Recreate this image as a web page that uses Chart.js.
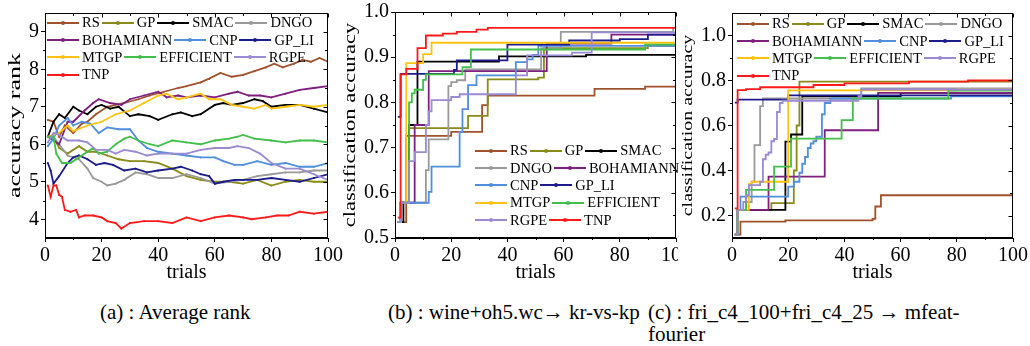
<!DOCTYPE html>
<html>
<head>
<meta charset="utf-8">
<script src="https://cdn.jsdelivr.net/npm/chart.js@4.4.1/dist/chart.umd.min.js"></script>
<style>
  body { margin: 0; background: #fff; width: 1030px; height: 346px; position: relative; overflow: hidden; font-family: "Liberation Serif", "Times New Roman", serif; }
  canvas { position: absolute; top: 0; }
  #cC { background: #fff; }
  .legend { position: absolute; font-size: 14.5px; color: #000; }
  .row { display: flex; align-items: center; height: 17.3px; white-space: nowrap; }
  .sw { width: 32px; height: 2px; position: relative; margin-right: 3px; }
  .dot { position: absolute; left: 14px; top: -1px; width: 4px; height: 4px; border-radius: 50%; }
  .lab { margin-right: 2px; line-height: 1; }
  .cap { position: absolute; font-size: 21px; line-height: 22px; color: #000; }
</style>
</head>
<body>
<canvas id="cA" width="344" height="290" style="left:0"></canvas>
<canvas id="cB" width="340" height="290" style="left:338px"></canvas>
<canvas id="cC" width="352" height="290" style="left:678px"></canvas>
<div class="legend" id="legA" style="left:47px;top:14px"></div>
<div class="legend" id="legB" style="left:475px;top:142px"></div>
<div class="legend" id="legC" style="left:737px;top:15px"></div>
<div class="cap" style="left:100px;top:301px">(a) : Average rank</div>
<div class="cap" style="left:388px;top:301px">(b) : wine+oh5.wc→ kr-vs-kp</div>
<div class="cap" style="left:648px;top:301px">(c) : fri_c4_100+fri_c4_25 → mfeat-<br>fourier</div>
<script>
const names = ['RS', 'GP', 'SMAC', 'DNGO', 'BOHAMIANN', 'CNP', 'GP_LI', 'MTGP', 'EFFICIENT', 'RGPE', 'TNP'];
const colors = ['#a0522d', '#8b8b1a', '#000000', '#9a9a9a', '#7f1f80', '#4f8fdc', '#1c1c8c', '#ffc20e', '#43bf4b', '#9a8ad4', '#ff1a1a'];

const trialTicks = [0, 20, 40, 60, 80, 100];
const trialMinor = [10, 30, 50, 70, 90];
const rankTicks = [4, 5, 6, 7, 8, 9];
const rankMinor = [4.5, 5.5, 6.5, 7.5, 8.5];
const accTicksB = [0.5, 0.6, 0.7, 0.8, 0.9, 1.0];
const accMinorB = [0.55, 0.65, 0.75, 0.85, 0.95];
const accTicksC = [0.2, 0.4, 0.6, 0.8, 1.0];
const accMinorC = [0.3, 0.5, 0.7, 0.9];

// (a) average rank, [trial, rank]
const rsRank = [[1,6.65],[3,6.6],[5,6.2],[7,6.5],[10,6.3],[13,6.55],[15,6.6],[18,6.8],[22,7.0],[28,7.1],[33,7.2],[37,7.3],[42,7.4],[47,7.5],[50,7.55],[55,7.65],[58,7.75],[62,7.9],[66,7.8],[70,7.85],[74,7.95],[78,8.05],[81,8.15],[84,8.05],[88,8.15],[91,8.25],[94,8.2],[97,8.3],[100,8.2]];
const gpRank = [[1,6.2],[3,6.2],[5,5.9],[8,5.75],[12,5.95],[15,5.8],[18,5.8],[22,5.7],[26,5.6],[30,5.55],[35,5.55],[40,5.5],[45,5.35],[50,5.15],[55,5.05],[60,5.0],[65,5.0],[70,4.95],[75,5.05],[80,4.9],[85,5.0],[90,5.05],[95,5.0],[100,5.0]];
const smacRank = [[1,6.2],[3,6.6],[5,6.8],[7,6.7],[10,7.0],[12,6.9],[15,6.8],[18,7.0],[20,7.05],[23,6.95],[26,7.0],[30,6.75],[33,6.8],[37,6.75],[40,6.65],[45,6.8],[48,6.85],[52,6.75],[55,6.8],[60,7.05],[63,7.1],[66,7.05],[70,7.1],[74,7.2],[77,7.15],[80,7.0],[85,7.05],[90,7.05],[95,6.95],[100,6.85]];
const dngoRank = [[1,6.2],[3,6.2],[5,6.0],[8,5.7],[12,5.6],[15,5.35],[17,5.1],[20,5.0],[22,4.9],[25,4.95],[28,5.05],[32,5.25],[36,5.2],[40,5.1],[45,5.1],[50,5.2],[55,5.1],[60,4.95],[65,5.0],[70,5.05],[75,5.15],[80,5.2],[85,5.25],[90,5.25],[95,5.3],[100,5.3]];
const bohRank = [[1,6.2],[5,6.0],[8,6.6],[10,6.6],[14,6.9],[17,7.1],[19,7.2],[23,7.1],[27,7.05],[30,7.2],[35,7.3],[40,7.4],[43,7.25],[47,7.3],[50,7.25],[55,7.3],[60,7.25],[65,7.35],[68,7.4],[72,7.3],[76,7.3],[80,7.25],[85,7.35],[90,7.45],[95,7.5],[100,7.55]];
const cnpRank = [[1,5.95],[3,6.15],[5,6.5],[8,6.7],[10,6.5],[13,6.6],[16,6.55],[19,6.3],[22,6.45],[26,6.4],[30,6.4],[33,6.1],[36,5.9],[40,5.8],[45,5.75],[50,5.7],[55,5.65],[60,5.65],[63,5.55],[67,5.45],[70,5.45],[75,5.55],[80,5.45],[85,5.5],[90,5.4],[95,5.4],[100,5.5]];
const gpliRank = [[1,5.5],[2,5.3],[3,4.95],[5,5.15],[8,5.5],[10,5.65],[12,5.7],[15,5.6],[18,5.45],[21,5.5],[24,5.45],[28,5.3],[32,5.35],[36,5.25],[40,5.3],[45,5.35],[48,5.4],[52,5.3],[55,5.2],[58,5.15],[60,4.95],[63,5.0],[67,5.05],[70,5.05],[75,5.05],[80,5.1],[85,5.05],[90,5.0],[95,5.1],[100,5.2]];
const mtgpRank = [[1,6.2],[5,6.3],[8,6.5],[10,6.35],[15,6.5],[20,6.6],[25,6.8],[30,6.9],[35,7.1],[40,7.3],[43,7.35],[47,7.2],[50,7.25],[55,7.35],[58,7.2],[62,7.2],[66,7.05],[70,7.0],[74,6.95],[78,7.05],[80,6.95],[85,7.0],[90,7.05],[95,7.0],[100,7.05]];
const effRank = [[1,6.2],[3,6.2],[4,5.75],[6,5.5],[9,5.5],[12,5.65],[15,5.8],[17,5.9],[19,5.75],[22,5.8],[25,6.0],[28,6.15],[30,6.2],[33,6.1],[37,6.0],[40,5.95],[45,6.1],[50,6.05],[55,6.0],[60,6.1],[65,6.15],[68,6.2],[70,6.25],[74,6.15],[80,6.1],[85,6.05],[90,6.1],[95,6.1],[100,6.05]];
const rgpeRank = [[1,6.05],[3,6.3],[5,6.25],[8,6.1],[12,6.1],[15,6.05],[18,5.85],[22,5.85],[25,5.75],[28,5.85],[32,5.8],[36,5.7],[40,5.75],[45,5.75],[50,5.75],[55,5.85],[60,5.9],[65,5.9],[68,5.95],[72,5.9],[76,5.75],[80,5.5],[85,5.35],[90,5.35],[95,5.2],[100,5.05]];
const tnpRank = [[1,4.9],[2,4.6],[3,4.9],[4,4.9],[5,4.65],[6,4.6],[7,4.25],[9,4.2],[11,4.25],[12,4.05],[14,4.1],[17,4.1],[20,4.05],[22,3.95],[25,3.9],[27,3.75],[30,3.9],[35,3.95],[40,3.95],[45,3.9],[50,4.05],[55,3.95],[60,4.05],[65,4.1],[70,4.05],[73,4.0],[78,4.05],[82,4.1],[86,4.1],[90,4.2],[95,4.15],[100,4.2]];

// (b) wine+oh5.wc -> kr-vs-kp, best accuracy so far [trial, acc]
const rsB = [[1,0.535],[4,0.726],[20,0.735],[31,0.794],[33,0.815],[71,0.83],[89,0.835],[100,0.835]];
const gpB = [[1,0.535],[2,0.578],[5,0.743],[26,0.77],[33,0.851],[51,0.855],[53,0.92],[90,0.925],[100,0.925]];
const smacB = [[1,0.535],[3,0.578],[5,0.75],[8,0.89],[37,0.902],[68,0.905],[100,0.905]];
const dngoB = [[1,0.535],[2,0.578],[11,0.65],[12,0.718],[19,0.836],[20,0.845],[22,0.849],[25,0.873],[52,0.92],[59,0.956],[99,0.965],[100,0.965]];
const bohB = [[1,0.535],[2,0.578],[7,0.75],[12,0.869],[54,0.93],[77,0.95],[100,0.95]];
const cnpB = [[1,0.535],[2,0.578],[12,0.602],[13,0.658],[23,0.735],[24,0.785],[26,0.838],[29,0.86],[43,0.889],[47,0.895],[49,0.905],[51,0.925],[100,0.93]];
const gpliB = [[1,0.768],[2,0.863],[21,0.872],[22,0.893],[40,0.928],[62,0.937],[80,0.94],[90,0.95],[100,0.95]];
const mtgpB = [[1,0.535],[2,0.578],[4,0.887],[10,0.907],[13,0.932],[100,0.933]];
const effB = [[1,0.535],[2,0.578],[5,0.80],[6,0.82],[7,0.828],[10,0.85],[11,0.862],[24,0.878],[27,0.917],[89,0.928],[100,0.928]];
const rgpeB = [[1,0.535],[2,0.578],[5,0.67],[7,0.69],[11,0.75],[12,0.78],[13,0.805],[20,0.812],[23,0.818],[43,0.86],[47,0.904],[63,0.91],[70,0.955],[100,0.96]];
const tnpB = [[1,0.545],[2,0.862],[4,0.874],[8,0.92],[11,0.948],[17,0.952],[22,0.956],[29,0.961],[33,0.965],[100,0.965]];

// (c) fri_c4_100+fri_c4_25 -> mfeat-fourier
const rsC = [[1,0.115],[3,0.173],[19,0.178],[50,0.185],[51,0.24],[53,0.29],[100,0.29]];
const gpC = [[1,0.115],[2,0.225],[14,0.255],[22,0.40],[23,0.60],[24,0.795],[100,0.795]];
const smacC = [[1,0.115],[2,0.225],[19,0.528],[21,0.56],[25,0.73],[60,0.745],[100,0.745]];
const dngoC = [[1,0.115],[2,0.225],[5,0.26],[7,0.35],[8,0.513],[10,0.686],[11,0.72],[46,0.765],[100,0.77]];
const bohC = [[1,0.115],[2,0.225],[13,0.373],[33,0.579],[52,0.745],[100,0.745]];
const cnpC = [[1,0.115],[2,0.225],[3,0.284],[20,0.328],[22,0.35],[24,0.39],[25,0.43],[26,0.46],[27,0.50],[28,0.52],[29,0.53],[30,0.55],[32,0.65],[33,0.70],[35,0.72],[78,0.73],[100,0.73]];
const gpliC = [[1,0.702],[2,0.715],[20,0.734],[100,0.74]];
const mtgpC = [[1,0.115],[2,0.225],[6,0.34],[7,0.35],[20,0.756],[80,0.76],[100,0.76]];
const effC = [[1,0.115],[2,0.225],[5,0.314],[15,0.417],[21,0.542],[39,0.624],[43,0.72],[77,0.755],[100,0.755]];
const rgpeC = [[1,0.115],[2,0.225],[4,0.26],[5,0.29],[6,0.335],[10,0.35],[11,0.45],[12,0.47],[13,0.48],[14,0.53],[15,0.54],[16,0.66],[17,0.70],[18,0.71],[45,0.73],[46,0.76],[100,0.765]];
const tnpC = [[1,0.232],[2,0.757],[5,0.762],[10,0.77],[29,0.78],[40,0.787],[63,0.795],[84,0.80],[100,0.80]];

const seriesA = [rsRank, gpRank, smacRank, dngoRank, bohRank, cnpRank, gpliRank, mtgpRank, effRank, rgpeRank, tnpRank];
const seriesB = [rsB, gpB, smacB, dngoB, bohB, cnpB, gpliB, mtgpB, effB, rgpeB, tnpB];
const seriesC = [rsC, gpC, smacC, dngoC, bohC, cnpC, gpliC, mtgpC, effC, rgpeC, tnpC];

const FONT = '"Liberation Serif", "Times New Roman", serif';

// box frame, mirrored + minor ticks, and a narrow rotated y title
const framePlugin = {
  id: 'frame',
  afterDraw(chart, args, o) {
    const { ctx, chartArea: a, scales: { x, y } } = chart;
    const L = Math.round(a.left) + 0.5, R = Math.round(a.right) - 0.5;
    const T = Math.round(a.top) + 0.5, B = Math.round(a.bottom) - 0.5;
    ctx.save();
    ctx.strokeStyle = '#000';
    ctx.lineWidth = 1;
    ctx.strokeRect(L, T, R - L, B - T);
    ctx.beginPath();
    const xt = (vals, len, bottomLen) => vals.forEach(v => {
      const px = Math.round(x.getPixelForValue(v)) + 0.5;
      ctx.moveTo(px, T); ctx.lineTo(px, T + len);
      if (bottomLen) { ctx.moveTo(px, B); ctx.lineTo(px, B + bottomLen); }
    });
    const yt = (vals, len, leftLen) => vals.forEach(v => {
      const py = Math.round(y.getPixelForValue(v)) + 0.5;
      ctx.moveTo(R, py); ctx.lineTo(R - len, py);
      if (leftLen) { ctx.moveTo(L, py); ctx.lineTo(L - leftLen, py); }
    });
    xt(o.xMajor, 4, 0);
    xt(o.xMinor, 2.5, 2.5);
    yt(o.yMajor, 4, 0);
    yt(o.yMinor, 2.5, 2.5);
    ctx.stroke();

    ctx.translate(o.titleX, (a.top + a.bottom) / 2);
    ctx.scale(o.titleScale, 1);
    ctx.rotate(-Math.PI / 2);
    ctx.fillStyle = '#000';
    ctx.font = o.titleSize + 'px ' + FONT;
    ctx.textAlign = 'center';
    ctx.textBaseline = 'middle';
    ctx.fillText(o.title, 0, 0);
    ctx.restore();
  }
};

function buildChart(id, series, cfg) {
  const datasets = series.map((s, i) => ({
    label: names[i],
    data: s.map(([x, y]) => ({ x, y })),
    borderColor: colors[i],
    backgroundColor: colors[i],
    borderWidth: 1.8,
    pointRadius: cfg.stepped ? 0 : 1,
    pointBorderWidth: 0,
    stepped: cfg.stepped,
    tension: 0,
    order: series.length - i
  }));
  return new Chart(document.getElementById(id), {
    type: 'line',
    data: { datasets },
    options: {
      responsive: false,
      animation: false,
      events: [],
      layout: { padding: { top: cfg.top, right: cfg.right, left: 0, bottom: 0 } },
      plugins: {
        legend: { display: false },
        tooltip: { enabled: false },
        frame: {
          xMajor: trialTicks, xMinor: trialMinor, yMajor: cfg.yTicks, yMinor: cfg.yMinor,
          title: cfg.yTitle, titleSize: cfg.titleSize, titleX: cfg.titleX, titleScale: cfg.titleScale
        }
      },
      scales: {
        x: {
          type: 'linear', min: 0, max: 100,
          afterBuildTicks: s => { s.ticks = trialTicks.map(v => ({ value: v })); },
          afterFit: s => { s.height = 52; s.paddingLeft = 0; s.paddingRight = 0; },
          grid: { drawOnChartArea: false, tickLength: 4, color: '#000' },
          border: { color: '#000' },
          ticks: { font: { family: FONT, size: 20 }, color: '#000', padding: 2, maxRotation: 0 },
          title: { display: true, text: 'trials', font: { family: FONT, size: 20, lineHeight: 1.2 }, color: '#000', padding: { top: 0, bottom: 5 } }
        },
        y: {
          type: 'linear', min: cfg.yMin, max: cfg.yMax,
          afterBuildTicks: s => { s.ticks = cfg.yTicks.map(v => ({ value: v })); },
          afterFit: s => { s.width = cfg.yWidth; s.paddingTop = 0; s.paddingBottom = 0; },
          grid: { drawOnChartArea: false, tickLength: 4, color: '#000' },
          border: { color: '#000' },
          ticks: { font: { family: FONT, size: 20 }, color: '#000', padding: 2, callback: cfg.fmt },
          title: { display: false }
        }
      }
    },
    plugins: [framePlugin]
  });
}

// legends (HTML), rows as in the figure
const legendRowsA = [[0, 1, 2, 3], [4, 5, 6], [7, 8, 9], [10]];
const legendRowsB = [[0, 1, 2], [3, 4], [5, 6], [7, 8], [9, 10]];

function buildLegend(id, rows) {
  const box = document.getElementById(id);
  rows.forEach(r => {
    const row = document.createElement('div');
    row.className = 'row';
    r.forEach(i => {
      const sw = document.createElement('span');
      sw.className = 'sw';
      sw.style.background = colors[i];
      const dot = document.createElement('span');
      dot.className = 'dot';
      dot.style.background = colors[i];
      sw.appendChild(dot);
      const lab = document.createElement('span');
      lab.className = 'lab';
      lab.textContent = names[i];
      row.appendChild(sw);
      row.appendChild(lab);
    });
    box.appendChild(row);
  });
}

function drawAll() {
  buildChart('cA', seriesA, {
    stepped: false, top: 13, right: 16, yMin: 3.5, yMax: 9.5, yTicks: rankTicks, yMinor: rankMinor,
    yWidth: 45, yTitle: 'accuracy rank', titleSize: 26, titleX: 16, titleScale: 0.62, fmt: v => String(v)
  });
  buildChart('cB', seriesB, {
    stepped: true, top: 12, right: 2, yMin: 0.5, yMax: 1.0, yTicks: accTicksB, yMinor: accMinorB,
    yWidth: 57, yTitle: 'classification accuracy', titleSize: 22.5, titleX: 12.5, titleScale: 0.72, fmt: v => v.toFixed(1)
  });
  buildChart('cC', seriesC, {
    stepped: true, top: 13, right: 17, yMin: 0.1, yMax: 1.1, yTicks: accTicksC, yMinor: accMinorC,
    yWidth: 54, yTitle: 'classification accuracy', titleSize: 20, titleX: 10, titleScale: 0.75, fmt: v => v.toFixed(1)
  });
  buildLegend('legA', legendRowsA);
  buildLegend('legB', legendRowsB);
  buildLegend('legC', legendRowsA);
}

document.fonts.load('20px "Liberation Serif"').then(drawAll, drawAll);
</script>
</body>
</html>
